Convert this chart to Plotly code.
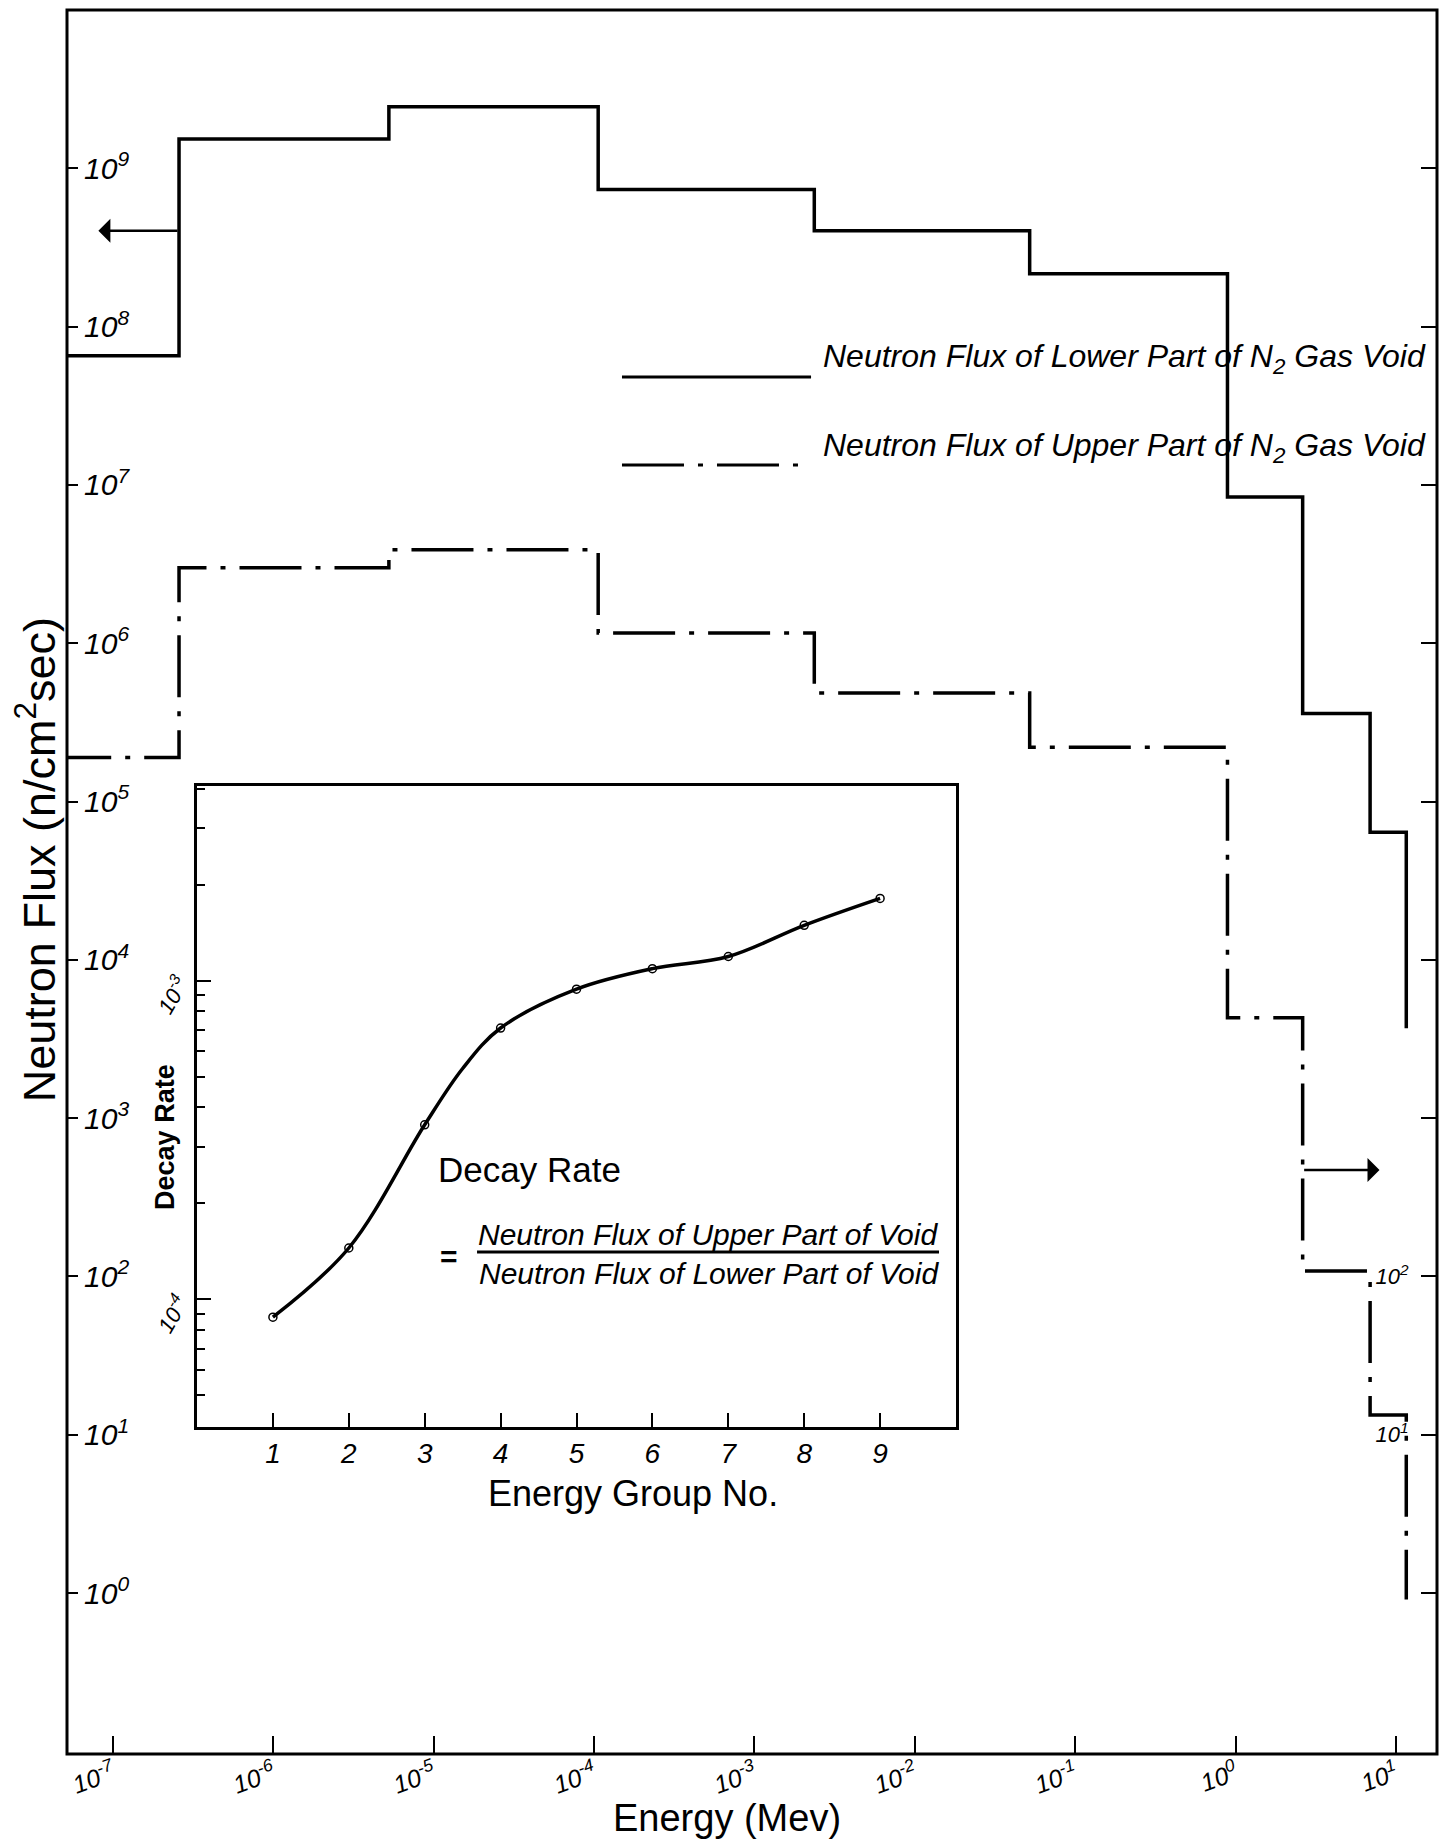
import numpy as np
import plotly.graph_objects as go

# ---------------- data ----------------
# energy group boundaries (MeV); first value lies left of the axis edge
energy_bounds = [4.0e-8, 2.58e-7, 5.25e-6, 1.06e-4, 2.36e-3, 5.2e-2, 0.89, 2.62, 6.9, 11.6]
# group flux, lower part of N2 gas void (solid), plus end of last vertical drop
lower_flux = [6.55e7, 1.53e9, 2.45e9, 7.35e8, 4.03e8, 2.16e8, 8.4e6, 3.6e5, 6.4e4]
lower_end = 3.7e3
# group flux, upper part of N2 gas void (dash-dot)
upper_flux = [1.9e5, 3.0e6, 3.9e6, 1.16e6, 4.85e5, 2.2e5, 4.3e3, 1.08e2, 1.33e1]
upper_end = 0.91

# inset: decay rate vs energy group number
group_no = [1, 2, 3, 4, 5, 6, 7, 8, 9]
decay_rate = [8.8e-5, 1.45e-4, 3.53e-4, 7.1e-4, 9.4e-4, 1.09e-3, 1.19e-3, 1.49e-3, 1.81e-3]
curve_group = [1, 2, 3, 3.5, 4, 5, 6, 7, 8, 9]
curve_rate = [8.8e-5, 1.45e-4, 3.53e-4, 5.3e-4, 7.1e-4, 9.4e-4, 1.09e-3, 1.19e-3, 1.49e-3, 1.81e-3]

# ticks
flux_ticks = [1e0, 1e1, 1e2, 1e3, 1e4, 1e5, 1e6, 1e7, 1e8, 1e9]
flux_tick_labels = ["10<sup>0</sup>", "10<sup>1</sup>", "10<sup>2</sup>", "10<sup>3</sup>",
                    "10<sup>4</sup>", "10<sup>5</sup>", "10<sup>6</sup>", "10<sup>7</sup>",
                    "10<sup>8</sup>", "10<sup>9</sup>"]
right_tick_labels = ["", "10<sup>1</sup>", "10<sup>2</sup>", "", "", "", "", "", "", ""]
energy_ticks = [1e-7, 1e-6, 1e-5, 1e-4, 1e-3, 1e-2, 1e-1, 1e0, 1e1]
energy_tick_labels = ["10<sup>-7</sup>", "10<sup>-6</sup>", "10<sup>-5</sup>", "10<sup>-4</sup>",
                      "10<sup>-3</sup>", "10<sup>-2</sup>", "10<sup>-1</sup>", "10<sup>0</sup>",
                      "10<sup>1</sup>"]
rate_ticks = [1e-4, 1e-3]
rate_tick_labels = ["10<sup>-4</sup>", "10<sup>-3</sup>"]

# arrows: (tail energy, head energy, flux)
left_arrow = (2.58e-7, 8.1e-8, 4.03e8)
right_arrow = (2.62, 7.9, 4.7e2)

FONT = "Liberation Sans"
DASHDOT = "62px,14px,5px,14px"

fig = go.Figure()

fig.add_trace(go.Scatter(
    x=energy_bounds, y=lower_flux + [lower_end], mode="lines", line_shape="hv",
    line=dict(color="black", width=3.5), xaxis="x", yaxis="y",
    name="lower", showlegend=False, hoverinfo="skip"))

fig.add_trace(go.Scatter(
    x=energy_bounds, y=upper_flux + [upper_end], mode="lines", line_shape="hv",
    line=dict(color="black", width=3.5, dash=DASHDOT), xaxis="x", yaxis="y2",
    name="upper", showlegend=False, hoverinfo="skip"))

# inset curve
fig.add_trace(go.Scatter(
    x=curve_group, y=curve_rate, mode="lines", line_shape="spline",
    line=dict(color="black", width=3.5), xaxis="x2", yaxis="y3",
    showlegend=False, hoverinfo="skip"))
fig.add_trace(go.Scatter(
    x=group_no, y=decay_rate, mode="markers",
    marker=dict(symbol="circle-open", size=8, color="black", line=dict(width=1.5)),
    xaxis="x2", yaxis="y3", showlegend=False, hoverinfo="skip"))

Y_RANGE = [-1.017, 10.0]

# page body has an 8px margin, so the figure is 16px smaller than the window
fig.update_layout(
    width=1438, height=1832,
    margin=dict(l=59, r=9, t=2, b=86),
    paper_bgcolor="white", plot_bgcolor="white",
    font=dict(family=FONT, color="black"),
    xaxis=dict(
        type="log", range=[-7.287, 1.256], domain=[0, 1], anchor="free", position=0,
        automargin=False,
        showline=False, showgrid=False, zeroline=False,
        tickmode="array", tickvals=energy_ticks,
        ticktext=["<i>%s</i>" % t for t in energy_tick_labels],
        ticks="inside", ticklen=18, tickwidth=2, tickcolor="black",
        tickfont=dict(size=25, family=FONT), tickangle=-20,
    ),
    # left flux axis: drawn on the frame's left edge with labels to its right
    yaxis=dict(
        type="log", range=Y_RANGE, domain=[0, 1], anchor="free", position=0, side="right",
        automargin=False,
        showline=False, showgrid=False, zeroline=False,
        tickmode="array", tickvals=flux_ticks,
        ticktext=["<i>%s</i>" % t for t in flux_tick_labels],
        ticks="outside", ticklen=10, tickwidth=2, tickcolor="black", ticklabelstandoff=0,
        tickfont=dict(size=30, family=FONT),
    ),
    # right flux axis: on the frame's right edge with labels to its left
    yaxis2=dict(
        type="log", range=Y_RANGE, overlaying="y", anchor="free", position=1, side="left",
        automargin=False,
        showline=False, showgrid=False, zeroline=False,
        tickmode="array", tickvals=flux_ticks,
        ticktext=["<i>%s</i>" % t if t else "" for t in right_tick_labels],
        ticks="outside", ticklen=16, tickwidth=2, tickcolor="black", ticklabelstandoff=8,
        tickfont=dict(size=22, family=FONT),
    ),
    xaxis2=dict(
        range=[0, 10], domain=[0.0949, 0.6489], anchor="y3", automargin=False,
        showline=True, linecolor="black", linewidth=2.5, mirror=True,
        showgrid=False, zeroline=False,
        tickmode="array", tickvals=group_no, ticktext=["<i>%d</i>" % g for g in group_no],
        ticks="inside", ticklen=14, tickwidth=2, tickcolor="black",
        tickfont=dict(size=28, family=FONT),
    ),
    yaxis3=dict(
        type="log", range=[-4.40, -2.39], domain=[0.1875, 0.555], anchor="x2", automargin=False,
        showline=True, linecolor="black", linewidth=2.5, mirror=True,
        showgrid=False, zeroline=False,
        tickmode="array", tickvals=rate_ticks,
        ticktext=["<i>%s</i>" % t for t in rate_tick_labels],
        ticks="inside", ticklen=14, tickwidth=2, tickcolor="black",
        tickfont=dict(size=22, family=FONT), tickangle=-60, ticklabelstandoff=10,
        minor=dict(dtick="D1", ticks="inside", ticklen=8, tickwidth=1.5,
                   tickcolor="black", showgrid=False),
    ),
)


def txt(text, x, y, size, angle=0, xanchor="center", weight="normal"):
    return dict(text=text, xref="paper", yref="paper", x=x, y=y, textangle=angle,
                xanchor=xanchor, yanchor="middle", showarrow=False,
                font=dict(size=size, family=FONT, weight=weight))


ann = [
    txt("Neutron Flux (n/cm<sup>2</sup>sec)", -0.0225, 0.5126, 45, angle=-90),
    txt("Energy (Mev)", 0.4818, -0.0365, 38),
    txt("<i>Neutron Flux of Lower Part of N<sub>2</sub> Gas Void</i>", 0.5504, 0.7999, 32, xanchor="left"),
    txt("<i>Neutron Flux of Upper Part of N<sub>2</sub> Gas Void</i>", 0.5504, 0.7489, 32, xanchor="left"),
    txt("Decay Rate", 0.0715, 0.3538, 27, angle=-90, weight="bold"),
    txt("Energy Group No.", 0.4131, 0.1491, 36),
    txt("Decay Rate", 0.2693, 0.3354, 35, xanchor="left"),
    txt("<b>=</b>", 0.2788, 0.2850, 30),
    txt("<i>Neutron Flux of Upper Part of Void</i>", 0.4679, 0.2976, 30),
    txt("<i>Neutron Flux of Lower Part of Void</i>", 0.4686, 0.2758, 30),
]
# arrows pointing to the relevant axis
for tail, head, flux in (left_arrow, right_arrow):
    ann.append(dict(x=np.log10(head), y=np.log10(flux), xref="x", yref="y",
                    ax=np.log10(tail), ay=np.log10(flux), axref="x", ayref="y",
                    text="", showarrow=True, arrowhead=1, arrowsize=1.6, arrowwidth=2.5,
                    arrowcolor="black"))
fig.update_layout(annotations=ann)

shapes = [
    # frame of the main chart
    dict(type="rect", xref="paper", yref="paper", x0=0, x1=1, y0=0, y1=1,
         line=dict(color="black", width=3)),
    # legend samples
    dict(type="line", xref="paper", yref="paper", x0=0.4051, x1=0.5431, y0=0.7896, y1=0.7896,
         line=dict(color="black", width=3)),
    dict(type="line", xref="paper", yref="paper", x0=0.4051, x1=0.5431, y0=0.7391, y1=0.7391,
         line=dict(color="black", width=3, dash=DASHDOT)),
    # fraction bar
    dict(type="line", xref="paper", yref="paper", x0=0.2993, x1=0.6365, y0=0.2878, y1=0.2878,
         line=dict(color="black", width=3)),
]
fig.update_layout(shapes=shapes)

fig.write_html("out.html")
